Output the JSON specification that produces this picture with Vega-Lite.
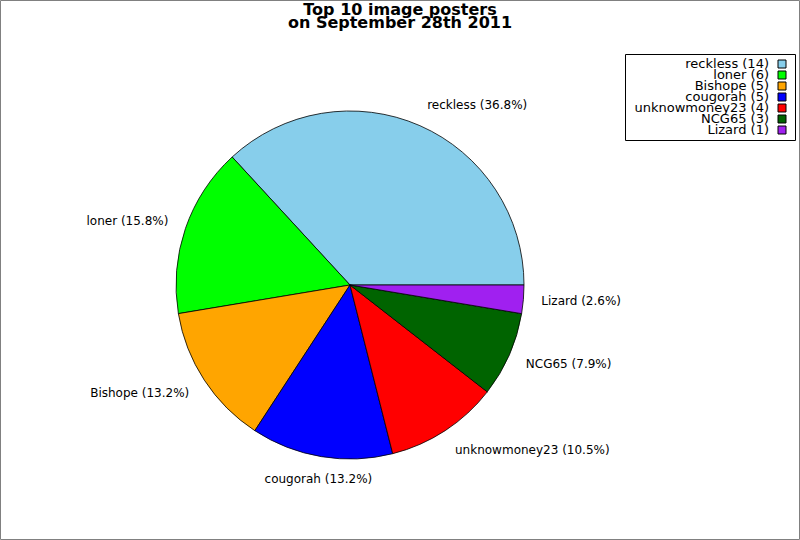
{
  "$schema": "https://vega.github.io/schema/vega-lite/v6.json",
  "description": "Top 10 image posters pie chart, slices counter-clockwise from 3 o'clock, legend box at top right",
  "width": 700,
  "height": 460,
  "autosize": {"type": "none"},
  "padding": {"left": 0, "top": 55, "right": 100, "bottom": 25},
  "background": "white",
  "title": {
    "text": ["Top 10 image posters", "on September 28th 2011"],
    "font": "DejaVu Sans",
    "fontSize": 16,
    "fontWeight": "bold",
    "lineHeight": 13,
    "color": "black",
    "anchor": "middle",
    "dx": 50,
    "offset": -31
  },
  "data": {
    "values": [
      {"rank": 1, "name": "reckless", "count": 14, "entry": "reckless (14)", "label": "reckless (36.8%)"},
      {"rank": 2, "name": "loner", "count": 6, "entry": "loner (6)", "label": "loner (15.8%)"},
      {"rank": 3, "name": "Bishope", "count": 5, "entry": "Bishope (5)", "label": "Bishope (13.2%)"},
      {"rank": 4, "name": "cougorah", "count": 5, "entry": "cougorah (5)", "label": "cougorah (13.2%)"},
      {"rank": 5, "name": "unknowmoney23", "count": 4, "entry": "unknowmoney23 (4)", "label": "unknowmoney23 (10.5%)"},
      {"rank": 6, "name": "NCG65", "count": 3, "entry": "NCG65 (3)", "label": "NCG65 (7.9%)"},
      {"rank": 7, "name": "Lizard", "count": 1, "entry": "Lizard (1)", "label": "Lizard (2.6%)"}
    ]
  },
  "layer": [
    {
      "data": {"values": [{"part": "frame"}]},
      "mark": {"type": "rect", "fill": null, "stroke": "#808080", "strokeWidth": 1},
      "encoding": {
        "x": {"datum": 0.5, "type": "quantitative", "scale": {"domain": [0, 800], "range": [0, 800]}, "axis": null},
        "x2": {"datum": 799.5},
        "y": {"datum": 0.5, "type": "quantitative", "scale": {"domain": [0, 540], "range": [-55, 485]}, "axis": null},
        "y2": {"datum": 539.5}
      }
    },
    {
      "mark": {"type": "arc", "outerRadius": 174, "stroke": "black", "strokeWidth": 0.8},
      "encoding": {
        "theta": {
          "field": "count",
          "type": "quantitative",
          "stack": true,
          "scale": {"range": [1.5707963, -4.712389]}
        },
        "order": {"field": "rank", "type": "quantitative"},
        "color": {
          "field": "entry",
          "type": "nominal",
          "scale": {
            "domain": ["reckless (14)", "loner (6)", "Bishope (5)", "cougorah (5)", "unknowmoney23 (4)", "NCG65 (3)", "Lizard (1)"],
            "range": ["#87CEEB", "#00FF00", "#FFA500", "#0000FF", "#FF0000", "#006400", "#A020F0"]
          },
          "legend": null
        }
      }
    },
    {
      "mark": {
        "type": "text",
        "radius": 192,
        "font": "DejaVu Sans",
        "fontSize": 12,
        "color": "black",
        "baseline": "middle",
        "dy": {"expr": "-5 * sin(PI * (datum.count_start + datum.count_end) / 38)"},
        "align": {"expr": "cos(PI * (datum.count_start + datum.count_end) / 38) > 0.2 ? 'left' : (cos(PI * (datum.count_start + datum.count_end) / 38) < -0.2 ? 'right' : 'center')"}
      },
      "encoding": {
        "theta": {
          "field": "count",
          "type": "quantitative",
          "stack": true,
          "scale": {"range": [1.5707963, -4.712389]}
        },
        "order": {"field": "rank", "type": "quantitative"},
        "detail": {"field": "entry", "type": "nominal"},
        "text": {"field": "label", "type": "nominal"}
      }
    },
    {
      "data": {"values": [{"part": "legend box"}]},
      "mark": {"type": "rect", "fill": "white", "stroke": "black", "strokeWidth": 1},
      "encoding": {
        "x": {"datum": 625.5, "type": "quantitative", "scale": {"domain": [0, 800], "range": [0, 800]}, "axis": null},
        "x2": {"datum": 795.5},
        "y": {"datum": 54.5, "type": "quantitative", "scale": {"domain": [0, 540], "range": [-55, 485]}, "axis": null},
        "y2": {"datum": 140.5}
      }
    },
    {
      "mark": {
        "type": "text",
        "align": "right",
        "baseline": "middle",
        "font": "DejaVu Sans",
        "fontSize": 13,
        "color": "black"
      },
      "encoding": {
        "x": {"datum": 769, "type": "quantitative", "scale": {"domain": [0, 800], "range": [0, 800]}, "axis": null},
        "y": {
          "field": "entry",
          "type": "nominal",
          "sort": {"field": "rank"},
          "scale": {"type": "point", "range": [9, 75], "padding": 0},
          "axis": null
        },
        "text": {"field": "entry", "type": "nominal"}
      }
    },
    {
      "mark": {
        "type": "point",
        "shape": "square",
        "filled": true,
        "size": 64,
        "stroke": "black",
        "strokeWidth": 1,
        "opacity": 1
      },
      "encoding": {
        "x": {"datum": 782, "type": "quantitative", "scale": {"domain": [0, 800], "range": [0, 800]}, "axis": null},
        "y": {
          "field": "entry",
          "type": "nominal",
          "sort": {"field": "rank"},
          "scale": {"type": "point", "range": [9, 75], "padding": 0},
          "axis": null
        },
        "color": {
          "field": "entry",
          "type": "nominal",
          "scale": {
            "domain": ["reckless (14)", "loner (6)", "Bishope (5)", "cougorah (5)", "unknowmoney23 (4)", "NCG65 (3)", "Lizard (1)"],
            "range": ["#87CEEB", "#00FF00", "#FFA500", "#0000FF", "#FF0000", "#006400", "#A020F0"]
          },
          "legend": null
        }
      }
    }
  ],
  "resolve": {"scale": {"y": "independent"}},
  "config": {"view": {"stroke": null}}
}
